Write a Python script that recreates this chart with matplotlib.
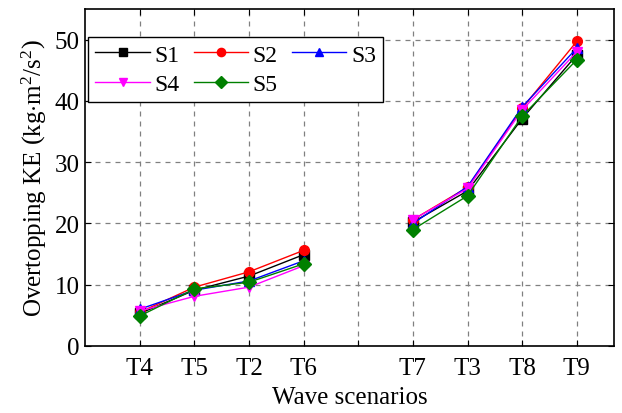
import numpy as np
import matplotlib.pyplot as plt

plt.rcParams['font.family'] = ['Liberation Serif', 'DejaVu Serif']
plt.rcParams['mathtext.fontset'] = 'custom'
plt.rcParams['mathtext.rm'] = 'Liberation Serif'
plt.rcParams['mathtext.it'] = 'Liberation Serif:italic'

# wave scenarios (two groups, gap between them)
left_labels = ['T4', 'T5', 'T2', 'T6']
right_labels = ['T7', 'T3', 'T8', 'T9']
left_pos = [1, 2, 3, 4]
right_pos = [6, 7, 8, 9]

series = ['S1', 'S2', 'S3', 'S4', 'S5']
s1 = [5.3, 9.1, 11.4, 14.9, 20.2, 25.3, 37.1, 47.5]
s2 = [5.5, 9.6, 12.1, 15.6, 20.6, 25.9, 38.8, 49.7]
s3 = [6.0, 9.1, 10.6, 13.9, 20.0, 26.0, 39.0, 48.6]
s4 = [5.7, 8.1, 9.6, 13.1, 20.6, 25.7, 38.5, 48.0]
s5 = [4.9, 9.3, 10.4, 13.4, 19.0, 24.5, 37.5, 46.7]
values = [s1, s2, s3, s4, s5]

colors = ['black', 'red', 'blue', 'magenta', 'green']
markers = ['s', 'o', '^', 'v', 'D']

fig = plt.figure(figsize=(6.22, 4.14), dpi=100)
ax = fig.add_axes([0.137, 0.162, 0.85, 0.814])

handles = []
for name, vals, c, m in zip(series, values, colors, markers):
    h, = ax.plot(left_pos, vals[:4], color=c, marker=m, markersize=7, lw=1, label=name)
    ax.plot(right_pos, vals[4:], color=c, marker=m, markersize=7, lw=1)
    handles.append(h)

ax.set_xlim(0, 9.68)
ax.set_ylim(0, 55)
ax.set_xticks(left_pos + [5] + right_pos)
ax.set_xticklabels(left_labels + [''] + right_labels)
ax.set_yticks([0, 10, 20, 30, 40, 50])
ax.tick_params(direction='in', top=True, right=True, labelsize=18, length=4)
ax.tick_params(axis='x', pad=8)
ax.tick_params(axis='y', pad=4)
ax.grid(True, linestyle=(0, (4, 4)), color='#808080', lw=0.9)
for sp in ax.spines.values():
    sp.set_linewidth(1.2)

ax.set_xlabel('Wave scenarios', fontsize=18, labelpad=5)
ax.set_ylabel(r'Overtopping KE $\left(\mathrm{kg{\cdot}m^2/s^2}\right)$', fontsize=18, labelpad=4)

# row-wise legend order: S1 S2 S3 / S4 S5
order = [0, 3, 1, 4, 2]
leg = ax.legend([handles[i] for i in order], [series[i] for i in order],
                ncol=3, loc='upper left', fontsize=17, fancybox=False, framealpha=1,
                edgecolor='black', handlelength=2.3, columnspacing=0.6,
                handletextpad=0.2, borderpad=0.3, labelspacing=0.35,
                borderaxespad=0, markerscale=0.85, bbox_to_anchor=(0.006, 0.917))
leg.get_frame().set_linewidth(1.0)

fig.savefig('out.png', dpi=100)
